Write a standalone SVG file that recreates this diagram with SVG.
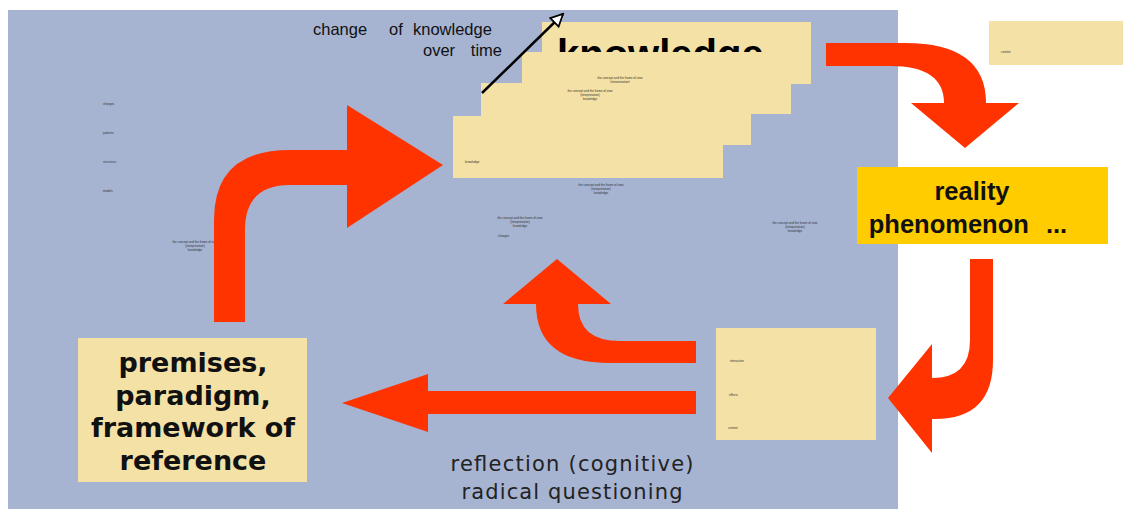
<svg xmlns="http://www.w3.org/2000/svg" width="1123" height="509" viewBox="0 0 1123 509">
  <style>
    .bg { fill: #a6b4d2; }
    .note { fill: #f3e1a6; }
    .flow { fill: #ff3300; }
    .tiny { font-family: "Liberation Sans", Arial, sans-serif; font-size: 3px; fill: #333; }
    .lbl { font-family: "Liberation Sans", Arial, sans-serif; font-size: 16.5px; fill: #111; }
    .big { font-family: "DejaVu Sans", Verdana, sans-serif; font-weight: bold; font-size: 27px; fill: #111; text-anchor: middle; }
    .cap { font-family: "DejaVu Sans", Verdana, sans-serif; font-size: 21px; fill: #222; text-anchor: middle; }
    .real { font-family: "Liberation Sans", Arial, sans-serif; font-weight: bold; font-size: 25.5px; fill: #111; text-anchor: middle; }
  </style>
  <defs>
    <marker id="openHead" viewBox="0 0 10 10" refX="9" refY="5" markerWidth="6" markerHeight="6" orient="auto" markerUnits="strokeWidth">
      <path d="M1,1 L9,5 L1,9 Z" fill="#fff" stroke="#000" stroke-width="1.2"/>
    </marker>
    <clipPath id="topCard">
      <rect x="542" y="22" width="269" height="30"/>
    </clipPath>
  </defs>

  <rect width="1123" height="509" fill="#fff"/>
  <rect class="bg" x="8" y="10" width="890" height="499"/>

  <!-- stacked knowledge cards, oldest on top -->
  <g id="knowledge-stack">
    <rect class="note" x="542" y="22" width="269" height="62"/>
    <text x="557" y="68" clip-path="url(#topCard)" font-family="Liberation Sans, Arial, sans-serif" font-weight="bold" font-size="40" fill="#000">knowledge</text>
    <rect class="note" x="522" y="52" width="269" height="62"/>
    <text class="tiny" x="620" y="79" text-anchor="middle">the concept and the frame of view<tspan x="620" dy="4">(interpretation)</tspan><tspan x="620" dy="4">knowledge</tspan></text>
    <rect class="note" x="481" y="83" width="270" height="62"/>
    <text class="tiny" x="590" y="92" text-anchor="middle">the concept and the frame of view<tspan x="590" dy="4">(interpretation)</tspan><tspan x="590" dy="4">knowledge</tspan></text>
    <rect class="note" x="453" y="116" width="270" height="62"/>
    <text class="tiny" x="465" y="163">knowledge</text>
  </g>

  <g id="time-label">
    <text class="lbl" x="313" y="35">change</text>
    <text class="lbl" x="389" y="35">of</text>
    <text class="lbl" x="413" y="35">knowledge</text>
    <text class="lbl" x="423" y="56">over</text>
    <text class="lbl" x="502" y="56" text-anchor="end">time</text>
  </g>

  <g id="corner-card">
    <rect class="note" x="989" y="21" width="134" height="44"/>
    <text class="tiny" x="1001" y="53">context</text>
  </g>

  <g id="reality">
    <rect x="857" y="167" width="251" height="77" fill="#ffcc00"/>
    <text class="real" x="972" y="200">reality</text>
    <text class="real" x="968" y="233">phenomenon <tspan dx="10">...</tspan></text>
  </g>

  <g id="premises">
    <rect class="note" x="78" y="338" width="229" height="144"/>
    <text class="big" x="193" y="372">premises,</text>
    <text class="big" x="193" y="405">paradigm,</text>
    <text class="big" x="193" y="437">framework of</text>
    <text class="big" x="193" y="470">reference</text>
  </g>

  <g id="reflection-card">
    <rect class="note" x="716" y="328" width="160" height="112"/>
    <text class="tiny" x="730" y="362">interaction</text>
    <text class="tiny" x="729" y="396">effects</text>
    <text class="tiny" x="728" y="429">context</text>
  </g>

  <g id="reflection-label">
    <text class="cap" x="572" y="471" textLength="243" lengthAdjust="spacing">reflection (cognitive)</text>
    <text class="cap" x="572" y="499" textLength="221" lengthAdjust="spacing">radical questioning</text>
  </g>

  <!-- small annotations scattered over the field -->
  <g id="annotations">
    <text class="tiny" x="103" y="105">changes</text>
    <text class="tiny" x="103" y="134">patterns</text>
    <text class="tiny" x="103" y="163">structures</text>
    <text class="tiny" x="103" y="192">models</text>
    <text class="tiny" x="195" y="243" text-anchor="middle">the concept and the frame of view<tspan x="195" dy="4">(interpretation)</tspan><tspan x="195" dy="4">knowledge</tspan></text>
    <text class="tiny" x="601" y="186" text-anchor="middle">the concept and the frame of view<tspan x="601" dy="4">(interpretation)</tspan><tspan x="601" dy="4">knowledge</tspan></text>
    <text class="tiny" x="520" y="219" text-anchor="middle">the concept and the frame of view<tspan x="520" dy="4">(interpretation)</tspan><tspan x="520" dy="4">knowledge</tspan></text>
    <text class="tiny" x="498" y="237">changes</text>
    <text class="tiny" x="795" y="224" text-anchor="middle">the concept and the frame of view<tspan x="795" dy="4">(interpretation)</tspan><tspan x="795" dy="4">knowledge</tspan></text>
  </g>

  <g id="connectors">
    <!-- time direction -->
    <line x1="482" y1="93" x2="563" y2="14" stroke="#000" stroke-width="2.5" marker-end="url(#openHead)"/>
    <!-- knowledge to reality -->
    <path class="flow" d="M826,43 L905,43 Q986,43 986,103 L1019,103 L965,148 L911,103 L944,103 Q944,66 890,66 L826,66 Z"/>
    <!-- reality down to reflection -->
    <path class="flow" d="M970,259 L993,259 L993,360 Q993,419 935,419 L932,419 L932,453 L888,398 L932,344 L932,378 Q970,378 970,340 Z"/>
    <!-- reflection back up to knowledge -->
    <path class="flow" d="M696,341 L696,363 L610,363 Q536,363 536,304 L503,304 L557,259 L611,304 L578,304 Q578,341 620,341 Z"/>
    <!-- reflection to premises -->
    <path class="flow" d="M696,391 L696,414 L428,414 L428,432 L342,403 L428,374 L428,391 Z"/>
    <!-- premises up to knowledge -->
    <path class="flow" d="M214,322 L214,220 Q214,150 290,150 L347,150 L347,105 L443,165 L347,228 L347,185 L290,185 Q245,185 245,230 L245,322 Z"/>
  </g>
</svg>
